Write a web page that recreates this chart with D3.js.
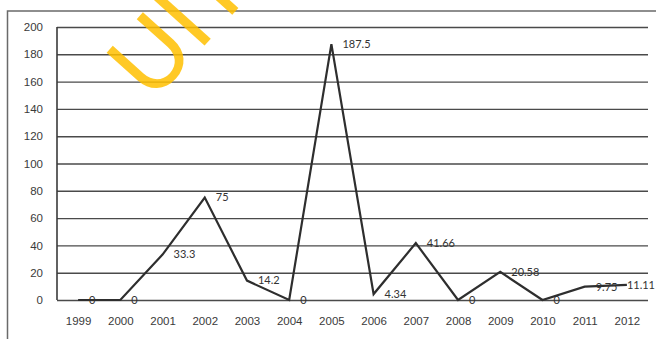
<!DOCTYPE html>
<html lang="en">
<head>
  <meta charset="UTF-8">
  <title>Line chart 1999-2012</title>
  <style>
    body { margin: 0; background: #fff; }
    svg { display: block; font-family: Lato, "Open Sans", sans-serif; }
  </style>
</head>
<body>
  <div id="chart"></div>

  <script src="https://d3js.org/d3.v7.min.js"></script>
  <script>

    const years = ["1999","2000","2001","2002","2003","2004","2005","2006","2007","2008","2009","2010","2011","2012"];
    const values = [0, 0, 33.3, 75, 14.2, 0, 187.5, 4.34, 41.66, 0, 20.58, 0, 9.75, 11.11];
    const labels = ["0","0","33.3","75","14.2","0","187.5","4.34","41.66","0","20.58","0","9.75","11.11"];
    const yTicks = [0, 20, 40, 60, 80, 100, 120, 140, 160, 180, 200];

    const width = 656,
          height = 339,
          margin = {top: 27, right: 8, bottom: 39, left: 57};

    const svg = d3.select("#chart")
      .append("svg")
      .attr("width", width)
      .attr("height", height);

    // outer frame of the scanned figure
    svg.append("rect")
      .attr("x", 7.5).attr("y", 11)
      .attr("width", width + 20).attr("height", height + 20)
      .attr("fill", "none")
      .attr("stroke", "#6a6a6a")
      .attr("stroke-width", 1.5);

    const x = d3.scalePoint(years, [margin.left, width - margin.right]).padding(0.5);
    const y = d3.scaleLinear([0, 200], [height - margin.bottom, margin.top]);

    // gridlines + y labels
    const yAxis = svg.append("g")
      .attr("transform", `translate(${margin.left},0)`)
      .call(d3.axisLeft(y).tickValues(yTicks).tickSize(-(width - margin.left - margin.right)).tickPadding(14));
    yAxis.select(".domain").remove();
    yAxis.selectAll(".tick line")
      .attr("stroke", "#4a4a4a")
      .attr("stroke-width", 1.4);
    yAxis.selectAll(".tick text")
      .attr("fill", "#3a3a3a")
      .style("font-size", "11.5px");

    // vertical axis line
    svg.append("line")
      .attr("x1", margin.left).attr("x2", margin.left)
      .attr("y1", y(200)).attr("y2", y(0))
      .attr("stroke", "#3a3a3a")
      .attr("stroke-width", 1.6);

    // x labels
    const xAxis = svg.append("g")
      .attr("transform", `translate(0,${y(0)})`)
      .call(d3.axisBottom(x).tickSize(0).tickPadding(17));
    xAxis.select(".domain").remove();
    xAxis.selectAll(".tick text")
      .attr("fill", "#3a3a3a")
      .style("font-size", "11.5px");

    // the series
    const line = d3.line()
      .x((d, i) => x(years[i]))
      .y(d => y(d));

    svg.append("path")
      .datum(values)
      .attr("fill", "none")
      .attr("stroke", "#2e2e2e")
      .attr("stroke-width", 2.2)
      .attr("d", line);

    // data labels, right of each point (kept inside the frame)
    svg.append("g")
      .selectAll("text")
      .data(values)
      .join("text")
      .attr("y", d => y(d))
      .attr("dy", "0.35em")
      .attr("fill", "#333")
      .style("font-size", "11px")
      .text((d, i) => labels[i])
      .attr("x", function(d, i) {
        const w = this.getComputedTextLength();
        return Math.min(x(years[i]) + 11, width - 1 - w);
      });

    // watermark
    svg.append("text")
      .attr("transform", "translate(152,104) rotate(-48)")
      .attr("fill", "#ffc000")
      .attr("fill-opacity", 0.85)
      .style("font-size", "95px")
      .style("font-weight", 400)
      .text("UIT");

  </script>
</body>
</html>
